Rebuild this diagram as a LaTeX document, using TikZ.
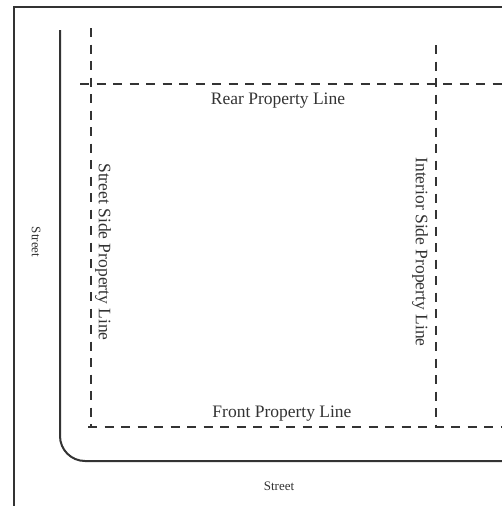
\documentclass[tikz,border=0pt]{standalone}
\usepackage{fontspec}
\setmainfont{Liberation Serif}
\usepackage{tikz}
\usetikzlibrary{positioning}
\definecolor{ink}{HTML}{333333}

\begin{document}
\begin{tikzpicture}[x=1pt, y=-1pt, every node/.style={inner sep=0pt, text=ink},
	lotline/.style={draw=ink, line width=1.9pt, dash pattern=on 9pt off 7.5pt},
	curb/.style={draw=ink, line width=2pt, rounded corners=25pt},
	lbl/.style={font=\fontsize{17.5}{19}\selectfont},
	streetlbl/.style={font=\fontsize{13}{15}\selectfont}]
	\useasboundingbox (0,0) rectangle (502,506);
	% frame
	\draw[ink, line width=1.5pt] (14,520) -- (14,7) -- (520,7);
	% street edge
	\coordinate (curbtop) at (60,30);
	\coordinate (curbend) at (520,461);
	\draw[curb] (curbtop) |- (curbend);
	% property lines
	\coordinate (sidetop) at (91,28);
	\coordinate (sidebot) at (91,427);
	\coordinate (intop) at (436,45);
	\coordinate (inbot) at (436,427);
	\coordinate (rearleft) at (80,84);
	\coordinate (rearright) at (520,84);
	\coordinate (frontleft) at (88,427);
	\coordinate (frontright) at (520,427);
	\draw[lotline] (sidetop) -- (sidebot);
	\draw[lotline] (intop) -- (inbot);
	\draw[lotline] (rearleft) -- (rearright);
	\draw[lotline] (frontleft) -- (frontright);
	% labels
	\coordinate (rearmid) at (278,84);
	\coordinate (frontmid) at (282,427);
	\node[lbl, below=9pt of rearmid] (rear) {Rear Property Line};
	\node[lbl, above=6pt of frontmid] (front) {Front Property Line};
	\node[lbl, rotate=-90] (side) at (103,252) {Street Side Property Line};
	\node[lbl, rotate=-90] (interior) at (420,252) {Interior Side Property Line};
	\node[streetlbl] (streetb) at (279,486) {Street};
	\node[streetlbl, rotate=-90] (streetl) at (36,242) {Street};
\end{tikzpicture}
\end{document}
